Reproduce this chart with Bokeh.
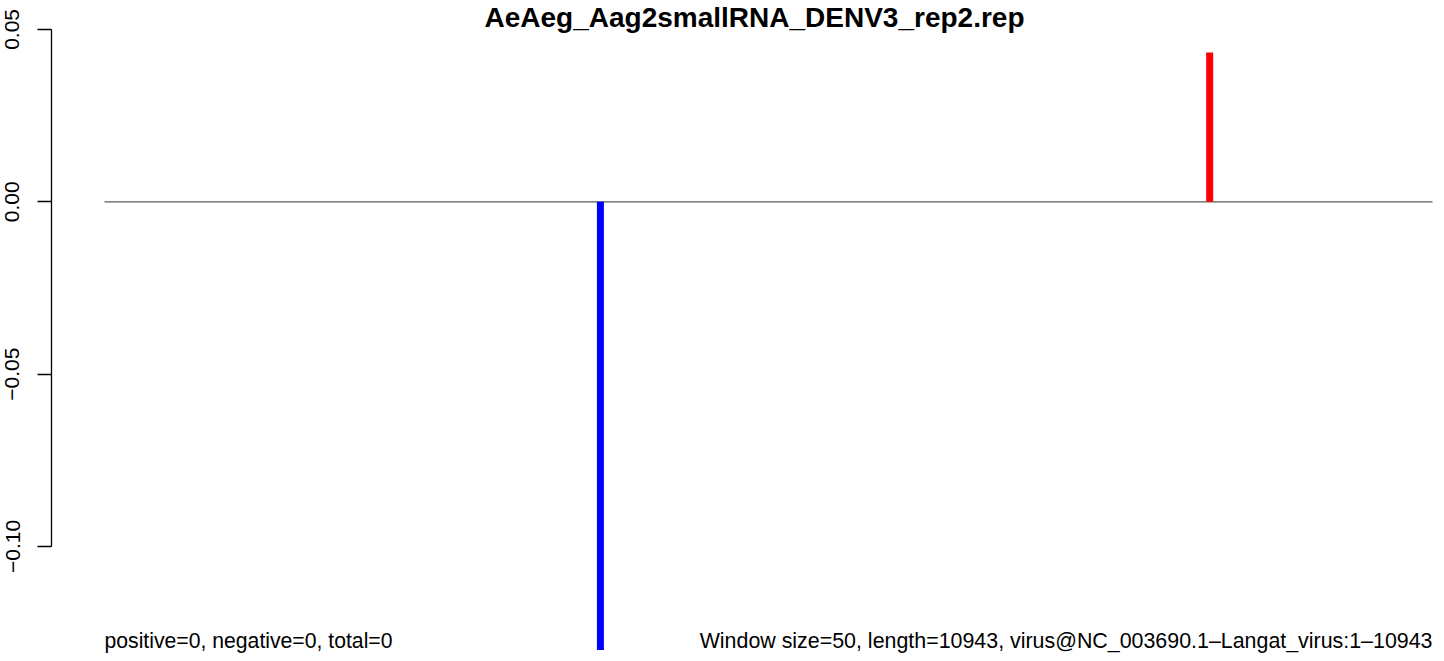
from bokeh.plotting import figure
from bokeh.models import Range1d, Label, FixedTicker
from bokeh.embed import file_html
from bokeh.resources import INLINE

# ---- data ----
title_text = "AeAeg_Aag2smallRNA_DENV3_rep2.rep"
genome_start = 1
genome_length = 10943
bar_positions = [4087, 9107]
bar_values = [-0.130, 0.0433]
bar_colors = ["#0000FF", "#FF0000"]
y_ticks = [-0.10, -0.05, 0.00, 0.05]
y_tick_labels = ["\u22120.10", "\u22120.05", "0.00", "0.05"]
left_note = "positive=0, negative=0, total=0"
right_note = "Window size=50, length=10943, virus@NC_003690.1\u2013Langat_virus:1\u201310943"

FONT = "Liberation Sans"

W, H = 1436, 653
LEFT = 51
# pixel calibration (figure coords)
px_start, px_end = 104, 1432
kx = (px_end - px_start) / (genome_length - genome_start)
x0 = genome_start - (px_start - LEFT) / kx
x1 = genome_start + (W - px_start) / kx
py_zero, ky = 201.3, 3447.0
y1 = py_zero / ky
y0 = (py_zero - H) / ky

p = figure(width=W, height=H, output_backend="svg", toolbar_location=None,
           x_range=Range1d(x0, x1), y_range=Range1d(y0, y1),
           x_axis_location=None, min_border_left=LEFT, min_border_right=0,
           min_border_top=0, min_border_bottom=0)
p.title.visible = False
p.xgrid.visible = False
p.ygrid.visible = False
p.outline_line_color = None
p.background_fill_color = "white"
p.border_fill_color = "white"

ax = p.yaxis[0]
ax.ticker = FixedTicker(ticks=y_ticks)
ax.major_label_overrides = {t: l for t, l in zip(y_ticks, y_tick_labels)}
ax.bounds = (min(y_ticks), max(y_ticks))
ax.major_label_orientation = "vertical"
ax.major_tick_out = 14
ax.major_tick_in = 0
ax.minor_tick_out = 0
ax.minor_tick_in = 0
ax.major_label_standoff = 18
ax.major_label_text_font = FONT
ax.major_label_text_font_size = "21px"
ax.major_label_text_color = "black"
ax.axis_line_color = "black"
ax.major_tick_line_color = "black"
ax.axis_line_width = 1.3
ax.major_tick_line_width = 1.3

# baseline
p.line([genome_start, genome_length], [0, 0], line_color="#5a5a5a", line_width=1.2)

# bars
p.segment(x0=bar_positions, y0=[0] * len(bar_positions), x1=bar_positions, y1=bar_values,
          line_color=bar_colors, line_width=7, line_cap="butt")

title_x = genome_start + (754 - px_start) / kx
p.add_layout(Label(x=title_x, y=(py_zero - 17) / ky, text=title_text, text_font=FONT,
                   text_font_style="bold", text_font_size="28px", text_align="center",
                   text_baseline="middle", text_color="black"))
note_y = (py_zero - 640) / ky
p.add_layout(Label(x=genome_start, y=note_y, text=left_note, text_font=FONT,
                   text_font_size="21.2px", text_align="left", text_baseline="middle",
                   text_color="black"))
p.add_layout(Label(x=genome_length, y=note_y, text=right_note, text_font=FONT,
                   text_font_size="21.4px", text_align="right", text_baseline="middle",
                   text_color="black"))

open("out.html", "w").write(file_html(p, INLINE))
